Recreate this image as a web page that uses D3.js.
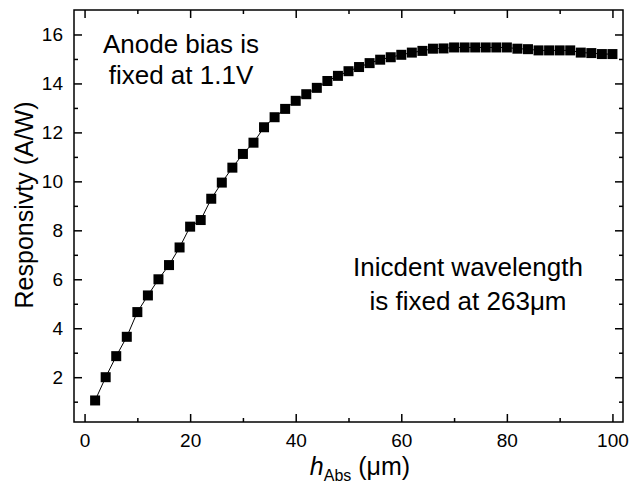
<!DOCTYPE html>
<html>
<head>
<meta charset="utf-8">
<script src="https://cdn.jsdelivr.net/npm/d3@7"></script>
<style>
    body { margin: 0; background: #fff; }
    text { font-family: "Liberation Sans", Arial, sans-serif; fill: #000; }
</style>
</head>
<body>
<div id="chart"></div>
<script>
// absorber thickness h_Abs (um)
const hAbs = [2, 4, 6, 8, 10, 12, 14, 16, 18, 20, 22, 24, 26, 28, 30, 32, 34, 36, 38, 40,
    42, 44, 46, 48, 50, 52, 54, 56, 58, 60, 62, 64, 66, 68, 70, 72, 74, 76, 78, 80,
    82, 84, 86, 88, 90, 92, 94, 96, 98, 100];
// responsivity (A/W)
const resp = [1.05, 2.0, 2.86, 3.65, 4.66, 5.34, 6.0, 6.58, 7.3, 8.15, 8.42, 9.29, 9.95, 10.56, 11.12, 11.58, 12.21, 12.62, 12.96, 13.29,
    13.56, 13.82, 14.1, 14.31, 14.5, 14.67, 14.83, 14.97, 15.07, 15.17, 15.26, 15.33, 15.42, 15.43, 15.47, 15.47, 15.47, 15.47, 15.47, 15.47,
    15.42, 15.4, 15.35, 15.35, 15.35, 15.35, 15.26, 15.24, 15.2, 15.2];
const xTicks = [0, 20, 40, 60, 80, 100];
const xMinor = [10, 30, 50, 70, 90];
const yTicks = [2, 4, 6, 8, 10, 12, 14, 16];
const yMinor = [1, 3, 5, 7, 9, 11, 13, 15];

const W = 631, H = 483;
const margin = {top: 10, right: 8, bottom: 61, left: 74};
const width = W - margin.left - margin.right,
    height = H - margin.top - margin.bottom;

const svg = d3.select("#chart").append("svg")
    .attr("width", W)
    .attr("height", H);

const g = svg.append("g")
    .attr("transform", "translate(" + margin.left + "," + margin.top + ")");

const x = d3.scaleLinear().domain([-2, 102]).range([0, width]);
const y = d3.scaleLinear().domain([0.17, 17]).range([height, 0]);

// axes with inward ticks (bottom/left labelled, top/right mirrored)
function styleAxis(sel) {
    sel.select(".domain").remove();
    sel.selectAll("line").attr("stroke", "#000").attr("stroke-width", 1.5);
    sel.selectAll("text").style("font-size", "19px").style("font-family", "'Liberation Sans', Arial, sans-serif");
}

g.append("g").attr("transform", "translate(0," + height + ")")
    .call(d3.axisBottom(x).tickValues(xTicks).tickSize(-8).tickPadding(12))
    .call(styleAxis);
g.append("g").attr("transform", "translate(0," + height + ")")
    .call(d3.axisBottom(x).tickValues(xMinor).tickSize(-4).tickFormat(""))
    .call(styleAxis);
g.append("g")
    .call(d3.axisTop(x).tickValues(xTicks).tickSize(-8).tickFormat(""))
    .call(styleAxis);
g.append("g")
    .call(d3.axisTop(x).tickValues(xMinor).tickSize(-4).tickFormat(""))
    .call(styleAxis);

g.append("g")
    .call(d3.axisLeft(y).tickValues(yTicks).tickSize(-8).tickPadding(11))
    .call(styleAxis);
g.append("g")
    .call(d3.axisLeft(y).tickValues(yMinor).tickSize(-4).tickFormat(""))
    .call(styleAxis);
g.append("g").attr("transform", "translate(" + width + ",0)")
    .call(d3.axisRight(y).tickValues(yTicks).tickSize(-8).tickFormat(""))
    .call(styleAxis);
g.append("g").attr("transform", "translate(" + width + ",0)")
    .call(d3.axisRight(y).tickValues(yMinor).tickSize(-4).tickFormat(""))
    .call(styleAxis);

// frame
g.append("rect")
    .attr("width", width)
    .attr("height", height)
    .attr("fill", "none")
    .attr("stroke", "#000")
    .attr("stroke-width", 1.5);

const pts = hAbs.map((h, i) => ({h: h, r: resp[i]}));

g.append("path")
    .datum(pts)
    .attr("fill", "none")
    .attr("stroke", "#000")
    .attr("stroke-width", 1)
    .attr("d", d3.line().x(d => x(d.h)).y(d => y(d.r)));

const ms = 10;
g.selectAll(".pt")
    .data(pts)
    .enter().append("rect")
    .attr("class", "pt")
    .attr("x", d => x(d.h) - ms / 2)
    .attr("y", d => y(d.r) - ms / 2)
    .attr("width", ms)
    .attr("height", ms)
    .attr("fill", "#000");

// axis titles
svg.append("text")
    .attr("transform", "translate(33,205) rotate(-90)")
    .attr("text-anchor", "middle")
    .style("font-size", "25px")
    .text("Responsivty (A/W)");

const xl = svg.append("text")
    .attr("x", 360)
    .attr("y", 475)
    .attr("text-anchor", "middle")
    .style("font-size", "25px");
xl.append("tspan").style("font-style", "italic").text("h");
xl.append("tspan").attr("dy", 6).style("font-size", "16px").text("Abs");
xl.append("tspan").attr("dy", -6).text(" (\u03bcm)");

// annotations
const notes = [
    {x: 181, y: 53, t: "Anode bias is"},
    {x: 181, y: 84, t: "fixed at 1.1V"},
    {x: 468, y: 276, t: "Inicdent wavelength"},
    {x: 468, y: 310, t: "is fixed at 263\u03bcm"}
];
svg.selectAll(".note")
    .data(notes)
    .enter().append("text")
    .attr("class", "note")
    .attr("x", d => d.x)
    .attr("y", d => d.y)
    .attr("text-anchor", "middle")
    .style("font-size", "26px")
    .text(d => d.t);
</script>
</body>
</html>
